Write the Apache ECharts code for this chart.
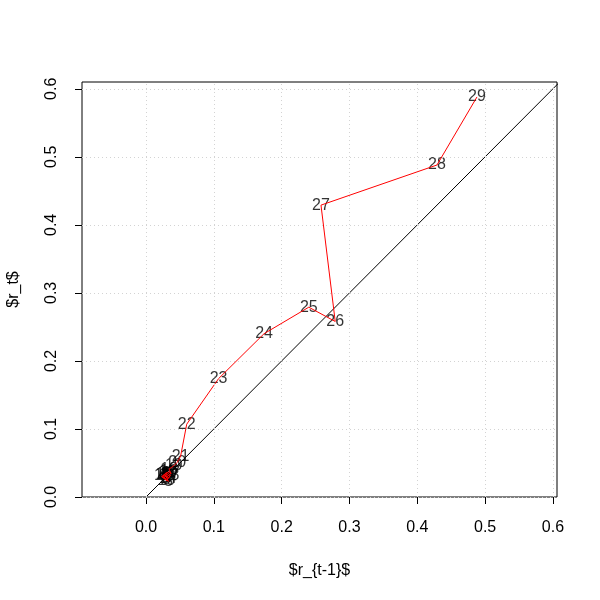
<!DOCTYPE html>
<html>
<head>
<meta charset="utf-8">
<script src="https://cdn.jsdelivr.net/npm/echarts@6/dist/echarts.min.js"></script>
<style>
  html, body { margin: 0; padding: 0; background: #fff; }
  #chart { width: 600px; height: 600px; }
</style>
</head>
<body>
<div id="chart"></div>
<script>
// r_t series, t = 0..29
const rates = [0.031, 0.028, 0.033, 0.023, 0.030, 0.025, 0.032, 0.029, 0.035, 0.030,
               0.024, 0.031, 0.036, 0.032, 0.027, 0.033, 0.037, 0.034, 0.041, 0.046,
               0.051, 0.060, 0.107, 0.174, 0.240, 0.279, 0.258, 0.429, 0.488, 0.588];
const xTicks = [0, 0.1, 0.2, 0.3, 0.4, 0.5, 0.6];
const yTicks = [0, 0.1, 0.2, 0.3, 0.4, 0.5, 0.6];
const identityLine = [[0, 0], [0.7, 0.7]];

const FONT = 'Liberation Sans';

// point t is (r_{t-1}, r_t), labelled t
const points = [];
for (let t = 1; t < rates.length; t++) {
    points.push({ value: [rates[t - 1], rates[t]], name: String(t) });
}

const gridLines = [
    ...xTicks.map(v => ({ xAxis: v })),
    ...yTicks.map(v => ({ yAxis: v }))
];

const chart = echarts.init(document.getElementById('chart'));
chart.setOption({
    animation: false,
    grid: { left: 82, right: 43, top: 82, bottom: 103, show: true, borderColor: '#000', borderWidth: 1,
            outerBoundsMode: 'none', containLabel: false },
    xAxis: {
        type: 'value', min: -0.0944, max: 0.606,
        name: '$r_{t-1}$', nameLocation: 'middle', nameGap: 66,
        nameTextStyle: { color: '#000', fontSize: 16, fontFamily: FONT },
        axisLine: { show: false, onZero: false },
        splitLine: { show: false },
        axisTick: { show: true, length: 7, customValues: xTicks, lineStyle: { color: '#000' } },
        axisLabel: { customValues: xTicks, formatter: v => v.toFixed(1), margin: 23,
                     color: '#000', fontSize: 16, fontFamily: FONT }
    },
    yAxis: {
        type: 'value', min: 0, max: 0.61,
        name: '$r_t$', nameLocation: 'middle', nameGap: 60,
        nameTextStyle: { color: '#000', fontSize: 16, fontFamily: FONT },
        axisLine: { show: false, onZero: false },
        splitLine: { show: false },
        axisTick: { show: true, length: 7, customValues: yTicks, lineStyle: { color: '#000' } },
        axisLabel: { customValues: yTicks, formatter: v => v.toFixed(1), rotate: 90, margin: 22,
                     color: '#000', fontSize: 16, fontFamily: FONT }
    },
    series: [
        {
            type: 'line', data: identityLine, symbol: 'none', clip: true, silent: true,
            lineStyle: { color: '#000', width: 1 },
            markLine: {
                silent: true, symbol: 'none', label: { show: false },
                lineStyle: { color: '#d3d3d3', type: [1, 3], width: 1 },
                data: gridLines
            }
        },
        {
            type: 'line', data: points.map(p => p.value), symbol: 'none', silent: true,
            lineStyle: { color: '#ff0000', width: 1 }
        },
        {
            type: 'scatter', data: points, symbolSize: 0, silent: true,
            label: { show: true, position: 'inside', formatter: p => p.name,
                     color: '#000', fontSize: 16, fontFamily: FONT }
        }
    ]
});
</script>
</body>
</html>
